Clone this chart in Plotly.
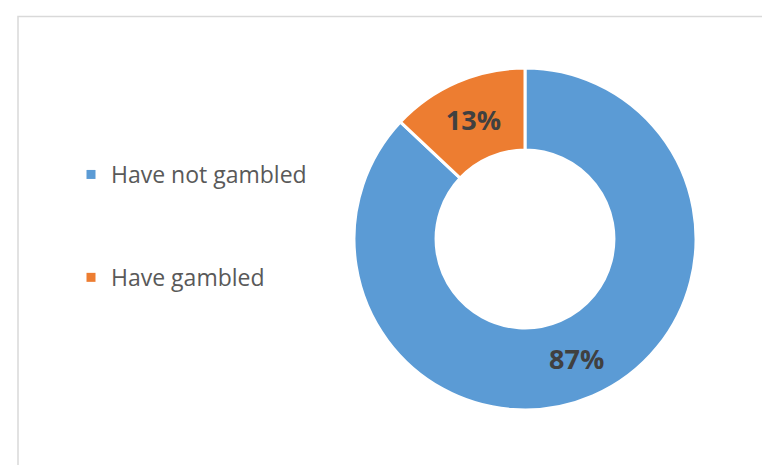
import plotly.graph_objects as go

# Data
labels = ["Have not gambled", "Have gambled"]
values = [87, 13]
colors = ["#5B9BD5", "#ED7D31"]

fig = go.Figure()

# Donut
cx, cy, r = 517, 231, 171
fig.add_trace(go.Pie(
    labels=labels,
    values=values,
    hole=0.52,
    sort=False,
    direction="clockwise",
    rotation=0,
    marker=dict(colors=colors, line=dict(color="white", width=3)),
    texttemplate="%{percent:.0%}",
    textposition="inside",
    insidetextorientation="horizontal",
    textfont=dict(family="Open Sans", size=27, color="#404040", weight="bold"),
    domain=dict(x=[(cx - r) / 770, (cx + r) / 770], y=[1 - (cy + r) / 465, 1 - (cy - r) / 465]),
    showlegend=False,
    hoverinfo="label+percent",
))

# Legend entries (spaced out like the original)
for i, (lab, col) in enumerate(zip(labels, colors)):
    fig.add_trace(go.Scatter(
        x=[None], y=[None], mode="markers", name=lab,
        marker=dict(symbol="square", size=9, color=col),
        legendgroup=f"g{i}",
    ))

fig.update_layout(
    width=770, height=465,
    margin=dict(l=0, r=0, t=0, b=0),
    paper_bgcolor="white",
    plot_bgcolor="white",
    xaxis=dict(visible=False),
    yaxis=dict(visible=False),
    legend=dict(
        x=63 / 770, y=1 - 145 / 465, xanchor="left", yanchor="top",
        font=dict(family="Open Sans", size=23, color="#595959"),
        tracegroupgap=70,
        bgcolor="rgba(0,0,0,0)",
    ),
    shapes=[dict(
        type="rect", xref="paper", yref="paper",
        x0=10 / 770, x1=1.1, y0=-0.1, y1=1 - 8.5 / 465,
        line=dict(color="#D9D9D9", width=1.5),
    )],
)

fig.write_html("out.html")
